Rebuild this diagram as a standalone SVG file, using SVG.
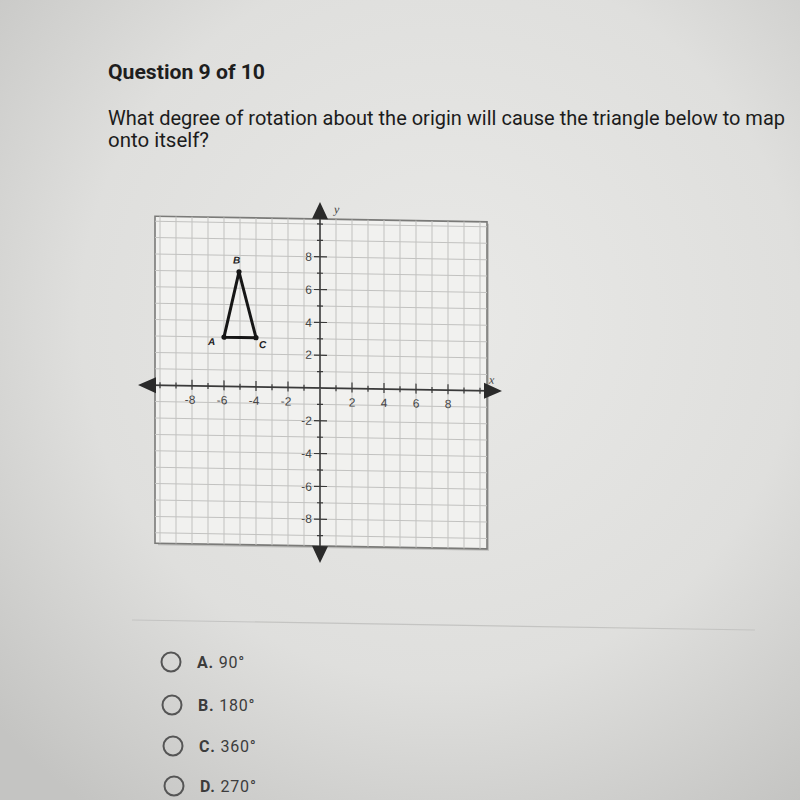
<svg xmlns="http://www.w3.org/2000/svg" width="800" height="800" viewBox="0 0 800 800">
<defs>
<radialGradient id="bg" cx="0.55" cy="0.4" r="0.75">
<stop offset="0" stop-color="#e9e9e7"/>
<stop offset="0.6" stop-color="#dfdfdd"/>
<stop offset="1" stop-color="#c4c4c2"/>
</radialGradient>
</defs>
<style>
.title{font-family:Roboto,"Liberation Sans",sans-serif;font-weight:700;fill:#1e1e1e}
.q{font-family:Roboto,"Liberation Sans",sans-serif;fill:#1c1c1c}
.grid{stroke:#c2c2c0;stroke-width:1;fill:none}
.axis{stroke:#3a3a3a;stroke-width:1.6;fill:none}
.tick{stroke:#3a3a3a;stroke-width:1.2;fill:none}
.num{font-family:"Liberation Sans",Arial,sans-serif;font-size:12px;fill:#444}
.vl{font-family:"Liberation Sans",Arial,sans-serif;font-size:10px;font-weight:bold;font-style:italic;fill:#222}
.ax{font-family:"Liberation Serif",serif;font-size:12px;font-style:italic;fill:#444}
.opt{font-family:Roboto,"Liberation Sans",sans-serif;font-size:16px;fill:#3c3c3c;letter-spacing:0.8px}
.radio{fill:none;stroke:#555;stroke-width:2}
</style>
<rect x="0" y="0" width="800" height="800" fill="url(#bg)"/>

<text class="title" x="108" y="79" font-size="21" textLength="157" lengthAdjust="spacingAndGlyphs">Question 9 of 10</text>
<text class="q" x="108" y="125" font-size="19.5" textLength="677" lengthAdjust="spacingAndGlyphs">What degree of rotation about the origin will cause the triangle below to map</text>
<text class="q" x="108" y="147" font-size="19.5" textLength="101" lengthAdjust="spacingAndGlyphs">onto itself?</text>

<g id="graph" transform="matrix(1 0.017 0 1 0 -5.44)">
<rect x="158" y="221" width="331" height="327" fill="#9a9a98" opacity="0.5"/>
<rect x="155" y="219" width="332" height="327" fill="#f1f1ef" stroke="#7a7a78" stroke-width="1.6"/>
<path class="grid" d="M160 219V546M176 219V546M192 219V546M208 219V546M224 219V546M240 219V546M256 219V546M272 219V546M288 219V546M304 219V546M336 219V546M352 219V546M368 219V546M384 219V546M400 219V546M416 219V546M432 219V546M448 219V546M464 219V546M480 219V546"/>
<path class="grid" d="M155 224H487M155 240.4H487M155 256.8H487M155 273.2H487M155 289.6H487M155 306H487M155 322.4H487M155 338.8H487M155 355.2H487M155 371.6H487M155 404.4H487M155 420.8H487M155 437.2H487M155 453.6H487M155 470H487M155 486.4H487M155 502.8H487M155 519.2H487M155 535.6H487"/>
<g id="axes">
<path class="axis" d="M150 388H490M320 214V548"/>
<path fill="#2a2a2a" d="M138 388L156 380L156 396Z M502 388L484 380L484 396Z M320 202L312 219L328 219Z M320 563L312 546L328 546Z"/>
<path class="tick" d="M160 385V391M176 385V391M192 382V392M208 385V391M224 382V392M240 385V391M256 382V392M272 385V391M288 382V392M304 385V391M336 385V391M352 382V392M368 385V391M384 382V392M400 385V391M416 382V392M432 385V391M448 382V392M464 385V391M480 385V391"/>
<path class="tick" d="M317 224H323M317 240.4H323M314 256.8H327M317 273.2H323M314 289.6H327M317 306H323M314 322.4H327M317 338.8H323M314 355.2H327M317 371.6H323M317 404.4H323M314 420.8H327M317 437.2H323M314 453.6H327M317 470H323M314 486.4H327M317 502.8H323M314 519.2H327M317 535.6H323"/>
<text class="ax" x="334" y="213">y</text>
<text class="ax" x="489" y="381">x</text>
</g>
<g id="xlabels" class="num" text-anchor="middle">
<text x="190" y="406">-8</text><text x="222" y="406">-6</text><text x="254" y="406">-4</text><text x="286" y="406">-2</text>
<text x="352" y="406">2</text><text x="384" y="406">4</text><text x="416" y="406">6</text><text x="448" y="406">8</text>
</g>
<g id="ylabels" class="num" text-anchor="end">
<text x="312" y="261">8</text><text x="312" y="294">6</text><text x="312" y="327">4</text><text x="312" y="359">2</text>
<text x="312" y="425">-2</text><text x="312" y="458">-4</text><text x="312" y="491">-6</text><text x="312" y="523">-8</text>
</g>
<g id="triangle">
<path d="M224 338.8L239 273.2L256 338.8Z" fill="none" stroke="#161616" stroke-width="3" stroke-linejoin="round"/>
<g id="A"><circle cx="224" cy="338.8" r="2.6" fill="#161616"/><text class="vl" x="208" y="347">A</text></g>
<g id="B"><circle cx="239" cy="273.2" r="2.6" fill="#161616"/><text class="vl" x="233" y="265">B</text></g>
<g id="C"><circle cx="256" cy="338.8" r="2.6" fill="#161616"/><text class="vl" x="259" y="349">C</text></g>
</g>
</g>

<line x1="132" y1="620" x2="755" y2="630" stroke="#c4c4c2" stroke-width="1.2"/>

<g id="optA"><circle class="radio" cx="171" cy="662" r="9.5"/><text class="opt" x="197" y="668"><tspan font-weight="bold">A.</tspan> 90°</text></g>
<g id="optB"><circle class="radio" cx="172" cy="705" r="9.5"/><text class="opt" x="198" y="711"><tspan font-weight="bold">B.</tspan> 180°</text></g>
<g id="optC"><circle class="radio" cx="173" cy="746" r="9.5"/><text class="opt" x="199" y="752"><tspan font-weight="bold">C.</tspan> 360°</text></g>
<g id="optD"><circle class="radio" cx="174" cy="786" r="9.5"/><text class="opt" x="200" y="792"><tspan font-weight="bold">D.</tspan> 270°</text></g>
</svg>
